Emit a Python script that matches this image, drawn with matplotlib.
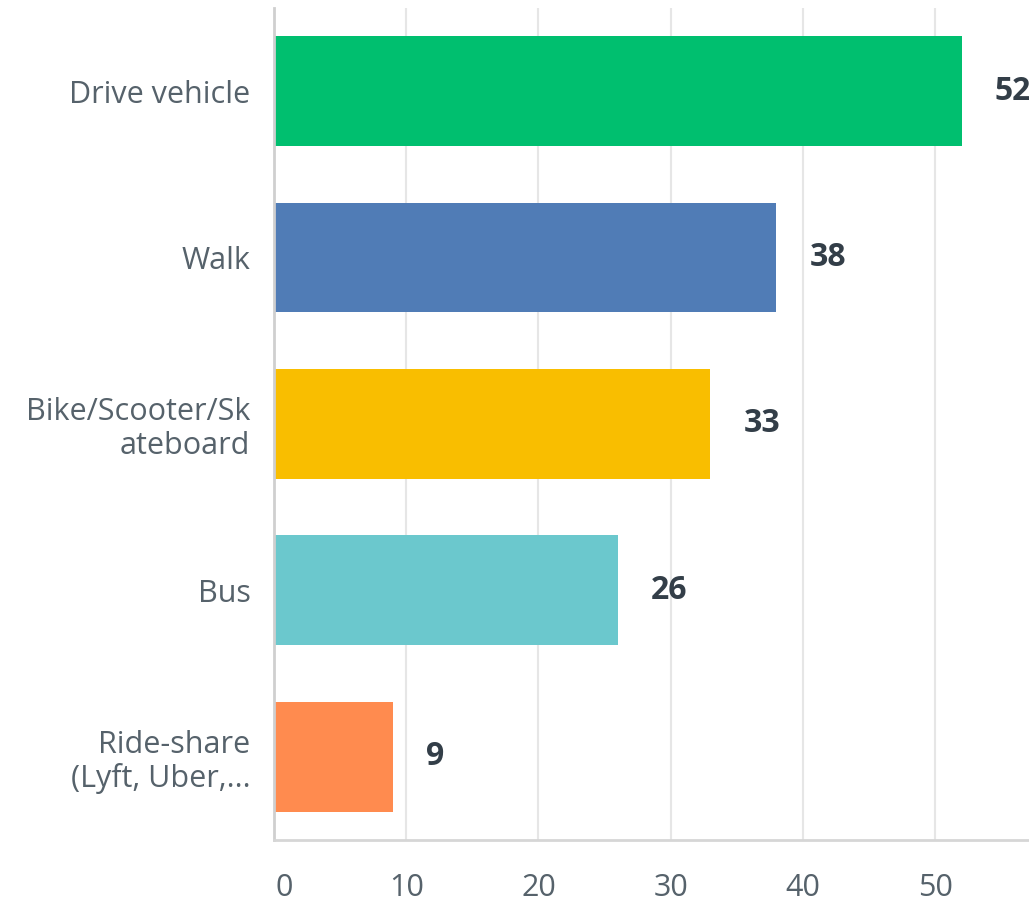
"""Horizontal bar chart of how respondents get around."""

import matplotlib

matplotlib.use("Agg")
import matplotlib.pyplot as plt
from matplotlib.transforms import ScaledTranslation

plt.rcParams["font.family"] = ["Open Sans", "DejaVu Sans"]

categories = [
    "Drive vehicle",
    "Walk",
    "Bike/Scooter/Sk\nateboard",
    "Bus",
    "Ride-share\n(Lyft, Uber,...",
]
responses = [52, 38, 33, 26, 9]
bar_colors = ["#00BF6F", "#507CB6", "#F9BE00", "#6BC8CD", "#FF8B4F"]
x_ticks = [0, 10, 20, 30, 40, 50]

LABEL_COLOR = "#56626B"
VALUE_COLOR = "#333E48"
GRID_COLOR = "#E6E6E6"

fig = plt.figure(figsize=(10.29, 9.05), dpi=100)
ax = fig.add_axes([0.2663, 0.0718, 0.7337, 0.9194])

y_pos = list(range(len(categories)))
ax.barh(y_pos, responses, height=0.66, color=bar_colors, zorder=2)

for y, val in zip(y_pos, responses):
    ax.annotate(
        f"{val}",
        xy=(val, y),
        xytext=(24, 0),
        textcoords="offset points",
        ha="left",
        va="center",
        fontsize=23,
        fontweight="bold",
        color=VALUE_COLOR,
        annotation_clip=False,
        clip_on=False,
    )

ax.set_xlim(0, 57.1)
ax.set_ylim(len(categories) - 0.5, -0.5)

ax.set_yticks(y_pos)
ax.set_yticklabels(categories, fontsize=22, color=LABEL_COLOR, linespacing=1.15)
ax.set_xticks(x_ticks)
ax.set_xticklabels([str(t) for t in x_ticks], fontsize=22, color=LABEL_COLOR)
ax.tick_params(axis="y", length=0, pad=17)
ax.tick_params(axis="x", length=0, pad=24)

# nudge the "0" label off the spine
zero_label = ax.get_xticklabels()[0]
zero_label.set_transform(
    zero_label.get_transform() + ScaledTranslation(10 / 100, 0, fig.dpi_scale_trans)
)

ax.grid(axis="x", color=GRID_COLOR, linewidth=1.5, zorder=0)
ax.set_axisbelow(True)
ax.spines["top"].set_visible(False)
ax.spines["right"].set_visible(False)
ax.spines["left"].set_color("#CFCFCF")
ax.spines["left"].set_linewidth(2)
ax.spines["bottom"].set_color("#D6D6D6")
ax.spines["bottom"].set_linewidth(2)

fig.savefig("out.png", dpi=100, facecolor="white")
